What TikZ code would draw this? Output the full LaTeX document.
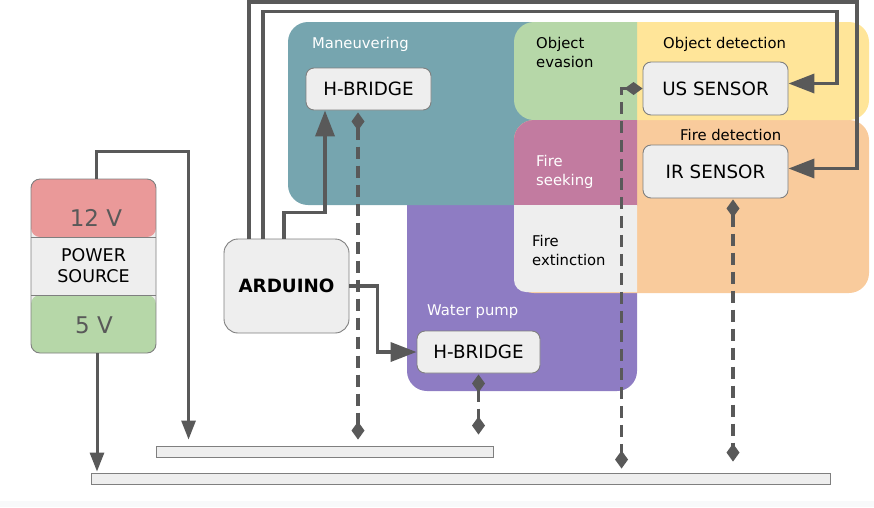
\documentclass[tikz,border=0pt]{standalone}
\usepackage{fontspec}
\setmainfont{DejaVu Sans}
\usepackage{tikz}
\usetikzlibrary{arrows.meta}
\definecolor{wire}{HTML}{595959}
\definecolor{boxline}{HTML}{7F7F7F}
\definecolor{boxfill}{HTML}{EEEEEE}
\definecolor{tealzone}{HTML}{76A5AF}
\definecolor{purplezone}{HTML}{8E7CC3}
\definecolor{greenzone}{HTML}{B6D7A8}
\definecolor{yellowzone}{HTML}{FFE599}
\definecolor{pinkzone}{HTML}{C27BA0}
\definecolor{orangezone}{HTML}{F9CB9C}
\definecolor{redvolt}{HTML}{EA9999}
\definecolor{bandgray}{HTML}{F8F9FA}

\begin{document}
\begin{tikzpicture}[x=1pt, y=-1pt,
                box/.style={draw=boxline, fill=boxfill, line width=0.9pt, rounded corners=8pt, inner sep=0pt,
                    minimum width=125pt, minimum height=42pt, font=\fontsize{18.3}{22}\selectfont},
                busbar/.style={draw=boxline, fill=boxfill, line width=0.9pt, inner sep=0pt, minimum height=11pt},
                zonetext/.style={inner sep=0pt, align=left, font=\fontsize{14.8}{19}\selectfont},
                sig/.style={draw=wire, line width=3.6pt, -{Triangle[length=26pt, width=19pt]}},
                pwr/.style={draw=wire, line width=3pt, -{Triangle[length=19pt, width=14pt]}},
                lnk/.style={draw=wire, line width=3.2pt, dash pattern=on 12pt off 7pt,
                    {Diamond[length=18pt, width=13pt]}-{Diamond[length=18pt, width=13pt]}}]
                \useasboundingbox (0,0) rectangle (874,507);
                \fill[bandgray] (0,501) rectangle (874,507);
                \fill[purplezone, rounded corners=20pt] (407,180) rectangle (637,391);
                \fill[tealzone, rounded corners=20pt] (288,22) rectangle (560,205);
                \fill[orangezone, rounded corners=20pt] (514,120) rectangle (869,293);
                \begin{scope}
                    \clip (637,0) rectangle (874,120);
                    \fill[yellowzone, rounded corners=20pt] (600,22) rectangle (869,120);
                \end{scope}
                \begin{scope}
                    \clip (514,0) rectangle (637,120);
                    \fill[greenzone, rounded corners=20pt] (514,22) rectangle (680,120);
                \end{scope}
                \begin{scope}
                    \clip (514,120) rectangle (637,205);
                    \fill[pinkzone, rounded corners=20pt] (514,120) rectangle (680,260);
                \end{scope}
                \begin{scope}
                    \clip (514,205) rectangle (637,300);
                    \fill[boxfill, rounded corners=12pt] (514,150) rectangle (680,292);
                \end{scope}
                \node[zonetext, text=white, anchor=base west] (maneuvering) at (312,48) {Maneuvering};
                \node[zonetext, text=white, anchor=base west] (waterpump) at (427,315) {Water pump};
                \node[zonetext, anchor=base west] (objdetection) at (663,48) {Object detection};
                \node[zonetext, anchor=base west] (firedetection) at (680,140) {Fire detection};
                \node[zonetext, anchor=north west] (evasion) at (536,37) {Object\\evasion};
                \node[zonetext, text=white, anchor=north west] (seeking) at (536,155) {Fire\\seeking};
                \node[zonetext, anchor=north west] (extinction) at (532,235) {Fire\\extinction};
                \node[box, rounded corners=9pt, minimum height=174pt, path picture={
                    \fill[redvolt] (path picture bounding box.north west) rectangle ([yshift=-58pt]path picture bounding box.north east);
                    \fill[greenzone] ([yshift=58pt]path picture bounding box.south west) rectangle (path picture bounding box.south east);
                    \draw[boxline, line width=0.9pt] ([yshift=-58pt]path picture bounding box.north west) -- ([yshift=-58pt]path picture bounding box.north east);
                    \draw[boxline, line width=0.9pt] ([yshift=58pt]path picture bounding box.south west) -- ([yshift=58pt]path picture bounding box.south east);
                }] (power) at (93.5,266) {};
                \node[text=wire, font=\fontsize{23}{27}\selectfont] (volt12) at (96,218) {12 V};
                \node[align=center, font=\fontsize{17.5}{21}\selectfont] (source) at (93.5,266) {POWER\\SOURCE};
                \node[text=wire, font=\fontsize{23}{27}\selectfont] (volt5) at (94,325) {5 V};
                \node[box, rounded corners=14pt, minimum height=94pt] (arduino) at (286.5,286) {\bfseries ARDUINO};
                \node[box] (hbridgeA) at (368.5,89) {H-BRIDGE};
                \node[box, minimum width=123pt] (hbridgeB) at (478.5,352) {H-BRIDGE};
                \node[box, minimum width=145pt, minimum height=53pt] (ussensor) at (715.5,88.5) {US SENSOR\hspace{10pt}};
                \node[box, minimum width=145pt, minimum height=53pt] (irsensor) at (715.5,171.5) {IR SENSOR};
                \node[busbar, minimum width=337pt] (busA) at (324.5,451.5) {};
                \node[busbar, minimum width=739pt] (busB) at (460.5,478.5) {};
                \coordinate (irturn) at (857,2);
                \coordinate (usturn) at (837,11.5);
                \draw[pwr, shorten >=6pt] ([xshift=2.5pt]power.north) -- ++(0,-27) -| ([xshift=33pt]busA.north west);
                \draw[pwr, shorten >=1pt] ([xshift=3.5pt]power.south) -- ([xshift=3.5pt]power.south |- busB.north);
                \draw[sig] ([xshift=-2.5pt]arduino.north) -- ++(0,-26) -| ([xshift=-43.5pt]hbridgeA.south);
                \draw[sig] ([xshift=-37.5pt]arduino.north) |- (irturn) |- ([yshift=3pt]irsensor.east);
                \draw[sig] ([xshift=-23.5pt]arduino.north) |- (usturn) |- ([yshift=5pt]ussensor.east);
                \draw[sig] (arduino.east) -- ++(28,0) |- (hbridgeB.west);
                \draw[lnk, shorten <=2pt, shorten >=6pt] ([xshift=-10.5pt]hbridgeA.south) -- ([xshift=-10.5pt]hbridgeA.south |- busA.north);
                \draw[lnk, shorten <=1pt, shorten >=11pt] (hbridgeB.south) -- (hbridgeB.south |- busA.north);
                \draw[lnk, shorten >=4pt] (ussensor.west) -| ([xshift=-21pt]ussensor.west |- busB.north);
                \draw[lnk, shorten <=1pt, shorten >=11pt] ([xshift=17.5pt]irsensor.south) -- ([xshift=17.5pt]irsensor.south |- busB.north);
            \end{tikzpicture}
\end{document}
